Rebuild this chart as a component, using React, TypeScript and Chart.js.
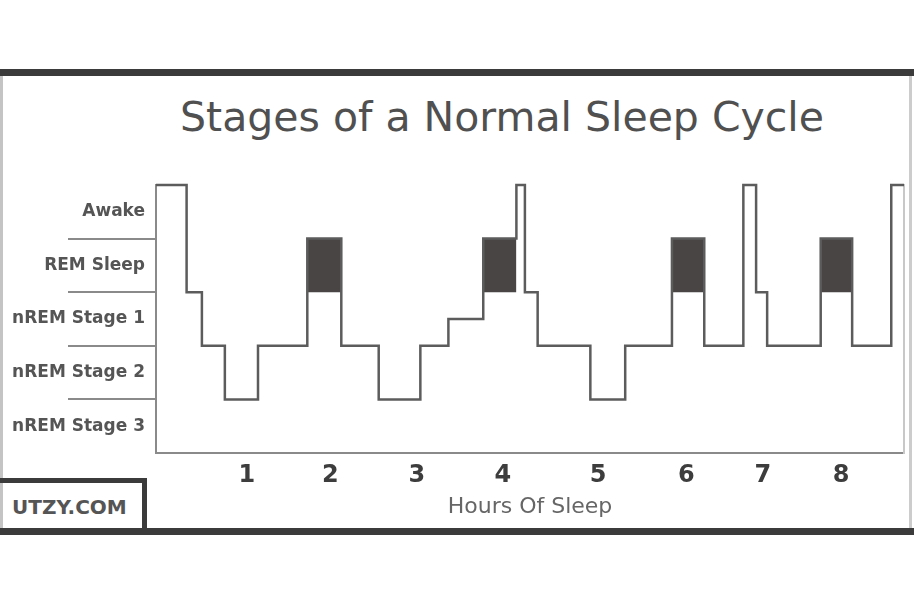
import React, { useEffect, useRef } from "react";
import { Chart, registerables } from "chart.js";

Chart.register(...registerables);

// Y axis: stage names are centred in bands, dividers sit on whole values
const stageLabels = ["nREM Stage 3", "nREM Stage 2", "nREM Stage 1", "REM Sleep", "Awake"];
const stageLabelAt = [0.5, 1.5, 2.5, 3.5, 4.5];
const stageDividers = [1, 2, 3, 4];
const levelMax = 5;

// X axis: hours of sleep
const hourLabels = ["1", "2", "3", "4", "5", "6", "7", "8"];
const hourTickAt = [1.07, 2.05, 3.07, 4.08, 5.2, 6.24, 7.14, 8.06];
const hoursMax = 8.8;

// Hypnogram: time (h) where each level starts, and the level held from there
const sleepTime = [0, 0.36, 0.54, 0.81, 1.2, 1.78, 2.18, 2.62, 3.11, 3.44, 3.85, 4.24, 4.34, 4.49, 5.11, 5.52, 6.07, 6.45, 6.91, 7.06, 7.19, 7.82, 8.19, 8.65, 8.8];
const sleepLevel = [5, 3, 2, 1, 2, 4, 2, 1, 2, 2.5, 4, 5, 3, 2, 1, 2, 4, 2, 5, 3, 2, 4, 2, 5, 5];

// REM periods are shaded between these levels
const remTop = 4;
const remFloor = 3;

const TITLE = "Stages of a Normal Sleep Cycle";
const FONT = "DejaVu Sans";

export default function App() {
  const canvasRef = useRef<HTMLCanvasElement | null>(null);

  useEffect(() => {
    if (!canvasRef.current) return;
    const points = sleepTime.map((t, i) => ({ x: t, y: sleepLevel[i] }));
    const remSets: any[] = [];
    sleepLevel.forEach((lv, i) => {
      if (lv === remTop && i + 1 < sleepTime.length) {
        remSets.push({
          data: [
            { x: sleepTime[i], y: remTop },
            { x: sleepTime[i + 1], y: remTop },
          ],
          fill: { value: remFloor },
          backgroundColor: "#4a4545",
          borderWidth: 0,
          pointRadius: 0,
          order: 2,
        });
      }
    });

    const chart = new Chart(canvasRef.current, {
      type: "line",
      data: {
        datasets: [
          {
            data: points,
            stepped: true,
            borderColor: "#5c5c5c",
            borderWidth: 2.5,
            pointRadius: 0,
            fill: false,
            clip: false,
            order: 1,
          } as any,
          ...remSets,
        ],
      },
      options: {
        responsive: true,
        maintainAspectRatio: false,
        animation: false,
        events: [],
        layout: { padding: { left: 8, right: 5, top: 185, bottom: 72 } },
        plugins: {
          legend: { display: false },
          tooltip: { enabled: false },
          title: { display: false },
        },
        scales: {
          x: {
            type: "linear",
            min: 0,
            max: hoursMax,
            afterBuildTicks: (s: any) => {
              s.ticks = hourTickAt.map((v) => ({ value: v }));
            },
            afterFit: (s: any) => {
              s.height = 77;
            },
            grid: { drawOnChartArea: false, drawTicks: false },
            border: { display: true, color: "#8a8a8a", width: 2 },
            ticks: {
              padding: 8,
              color: "#3d3d3d",
              font: { family: FONT, size: 24, weight: "bold" },
              callback: (_v: any, i: number) => hourLabels[i],
              maxRotation: 0,
              autoSkip: false,
            },
            title: {
              display: true,
              text: "Hours Of Sleep",
              color: "#666666",
              font: { family: FONT, size: 22 },
              padding: { top: 0, bottom: 10 },
            },
          },
          y: {
            type: "linear",
            position: "left",
            min: 0,
            max: levelMax,
            afterBuildTicks: (s: any) => {
              const vals = [...stageLabelAt, ...stageDividers].sort((a, b) => a - b);
              s.ticks = vals.map((v) => ({ value: v }));
            },
            afterFit: (s: any) => {
              s.width = 148;
            },
            grid: {
              drawOnChartArea: false,
              drawTicks: true,
              tickLength: 88,
              lineWidth: 2,
              color: (c: any) =>
                c.tick && stageDividers.includes(c.tick.value) ? "#8a8a8a" : "rgba(0,0,0,0)",
            },
            border: { display: true, color: "#8a8a8a", width: 2 },
            ticks: {
              padding: -77,
              color: "#555555",
              font: { family: FONT, size: 17, weight: "bold" },
              autoSkip: false,
              callback: (v: any) => {
                const k = stageLabelAt.indexOf(Number(v));
                return k >= 0 ? stageLabels[k] : "";
              },
            },
          },
          yRight: {
            type: "linear",
            position: "right",
            min: 0,
            max: levelMax,
            afterFit: (s: any) => {
              s.width = 5;
            },
            grid: { drawOnChartArea: false, drawTicks: false },
            ticks: { display: false },
            border: { display: true, color: "#c8c8c8", width: 2 },
          },
        } as any,
      },
    });
    return () => chart.destroy();
  }, []);

  const bar = (top: number, h: number): React.CSSProperties => ({
    position: "absolute",
    left: 0,
    top,
    width: 914,
    height: h,
    background: "#3b3b3b",
  });

  return (
    <div
      style={{
        position: "absolute",
        left: 0,
        top: 0,
        width: 914,
        height: 602,
        background: "#ffffff",
        overflow: "hidden",
      }}
    >
      <div style={bar(69, 7)} />
      <div style={bar(528, 7)} />
      <div style={{ position: "absolute", left: 0, top: 76, width: 3, height: 452, background: "#c4c4c4" }} />
      <div style={{ position: "absolute", left: 909, top: 76, width: 3, height: 452, background: "#cccccc" }} />
      <div
        style={{
          position: "absolute",
          left: 90,
          top: 93,
          width: 824,
          height: 48,
          lineHeight: "48px",
          textAlign: "center",
          fontFamily: FONT,
          fontSize: 41,
          color: "#505050",
          whiteSpace: "nowrap",
        }}
      >
        {TITLE}
      </div>
      <div
        style={{
          position: "absolute",
          left: 0,
          top: 478,
          width: 147,
          height: 50,
          boxSizing: "border-box",
          borderTop: "5px solid #3b3b3b",
          borderRight: "5px solid #3b3b3b",
        }}
      />
      <div
        style={{
          position: "absolute",
          left: 12,
          top: 494,
          height: 26,
          lineHeight: "26px",
          fontFamily: FONT,
          fontSize: 20,
          fontWeight: 600,
          color: "#555555",
          whiteSpace: "nowrap",
        }}
      >
        UTZY.COM
      </div>
      <div style={{ position: "absolute", left: 0, top: 0, width: 914, height: 602 }}>
        <canvas ref={canvasRef} style={{ display: "block" }} />
      </div>
    </div>
  );
}
